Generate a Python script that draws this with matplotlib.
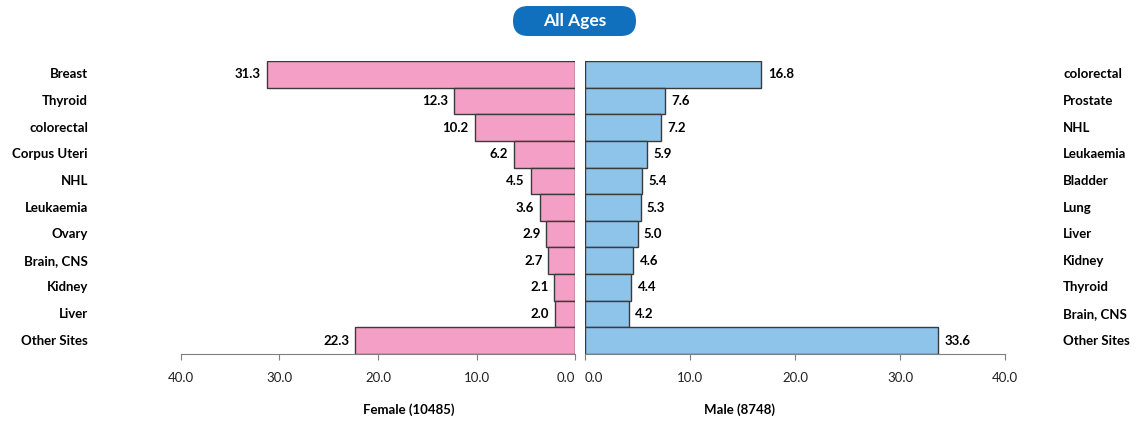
import matplotlib
matplotlib.use("Agg")
import matplotlib.pyplot as plt
from matplotlib.patches import FancyBboxPatch
from matplotlib import transforms

plt.rcParams['font.family'] = ['Lato', 'DejaVu Sans']

female_sites = ["Breast", "Thyroid", "colorectal", "Corpus Uteri", "NHL", "Leukaemia",
                "Ovary", "Brain, CNS", "Kidney", "Liver", "Other Sites"]
female_vals = [31.3, 12.3, 10.2, 6.2, 4.5, 3.6, 2.9, 2.7, 2.1, 2.0, 22.3]

male_sites = ["colorectal", "Prostate", "NHL", "Leukaemia", "Bladder", "Lung",
              "Liver", "Kidney", "Thyroid", "Brain, CNS", "Other Sites"]
male_vals = [16.8, 7.6, 7.2, 5.9, 5.4, 5.3, 5.0, 4.6, 4.4, 4.2, 33.6]

ticks = [0, 10, 20, 30, 40]
female_total = 10485
male_total = 8748

pink = "#F4A0C6"
blue = "#8EC3EA"
edge = "#3a3a3a"

fig = plt.figure(figsize=(11.38, 4.21), dpi=100)
axl = fig.add_axes([181/1138, 1-354/421, (575-181)/1138, (354-61)/421])
axr = fig.add_axes([585/1138, 1-354/421, (1005-585)/1138, (354-61)/421])

pos = list(range(len(female_vals)))

axl.barh(pos, female_vals, height=1.0, color=pink, edgecolor=edge, linewidth=1)
axr.barh(pos, male_vals, height=1.0, color=blue, edgecolor=edge, linewidth=1)

axl.set_xlim(40, 0)
axr.set_xlim(0, 40)
for ax in (axl, axr):
    ax.set_ylim(len(pos) - 0.5, -0.5)
    ax.set_yticks([])
    for s in ("top", "left", "right"):
        ax.spines[s].set_visible(False)
    ax.spines["bottom"].set_color("#7f7f7f")
    ax.set_xticks(ticks)
    ax.set_xticklabels([f"{t:.1f}" for t in ticks], fontsize=9.5, color="#222222")
    ax.tick_params(axis="x", direction="out", length=4, color="#7f7f7f", pad=9)

# keep the two 0.0 labels apart
axl.get_xticklabels()[0].set_horizontalalignment("right")
axr.get_xticklabels()[0].set_horizontalalignment("left")

for i, v in enumerate(female_vals):
    axl.text(v + 0.6, i, f"{v:.1f}", ha="right", va="center", fontsize=9.5, fontweight="bold")
for i, v in enumerate(male_vals):
    axr.text(v + 0.6, i, f"{v:.1f}", ha="left", va="center", fontsize=9.5, fontweight="bold")

trl = transforms.blended_transform_factory(fig.transFigure, axl.transData)
for i, name in enumerate(female_sites):
    fig.text(88/1138, i, name, ha="right", va="center", fontsize=9.5,
             fontweight="bold", transform=trl)
for i, name in enumerate(male_sites):
    fig.text(1063/1138, i, name, ha="left", va="center", fontsize=9.5,
             fontweight="bold", transform=trl)

fig.text(409/1138, 1-410/421, f"Female ({female_total})", ha="center", va="center",
         fontsize=9.5, fontweight="bold")
fig.text(740/1138, 1-410/421, f"Male ({male_total})", ha="center", va="center",
         fontsize=9.5, fontweight="bold")

# title pill, drawn in a small axes measured in pixels
axp = fig.add_axes([513/1138, 1-36/421, 123/1138, 30/421])
axp.set_xlim(0, 123)
axp.set_ylim(0, 30)
axp.axis("off")
axp.add_patch(FancyBboxPatch((0, 0), 123, 30, boxstyle="round,pad=0,rounding_size=15",
                             fc="#1170BE", ec="none"))
axp.text(61.5, 15, "All Ages", ha="center", va="center", fontsize=12.5,
         fontweight="bold", color="white")

fig.savefig("out.png", dpi=100)
